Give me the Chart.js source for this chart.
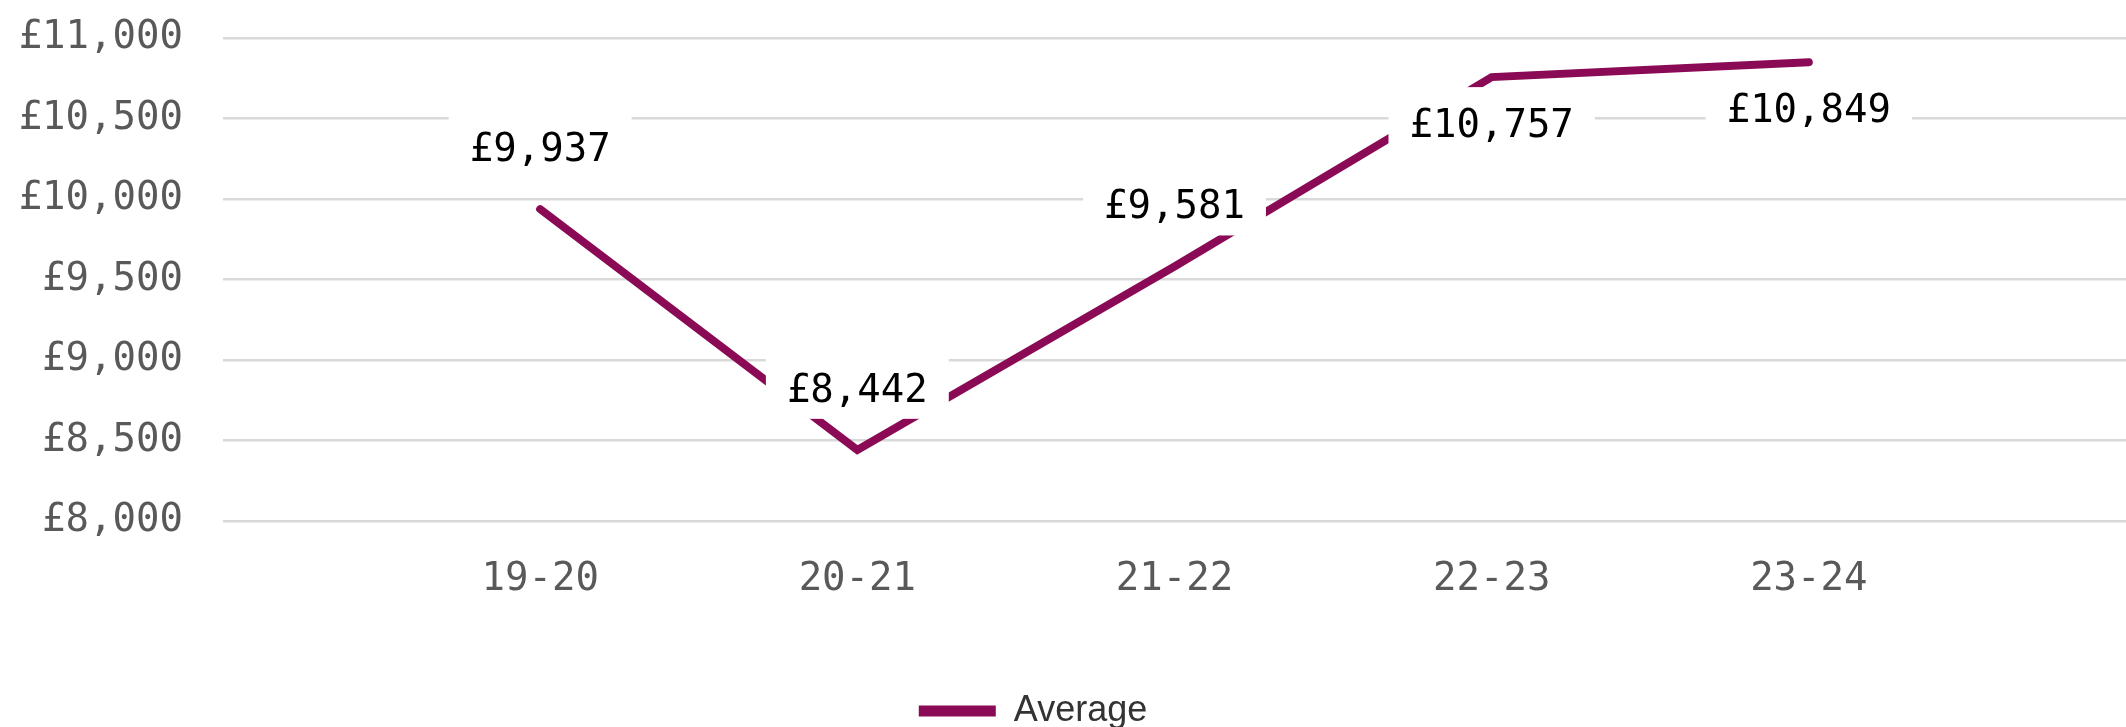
<!DOCTYPE html>
<html>
<head>
<meta charset="utf-8">
<script src="https://cdn.jsdelivr.net/npm/chart.js@4/dist/chart.umd.min.js"></script>
<style>
  html, body { margin: 0; padding: 0; background: #fff; }
  #wrap { width: 2126px; height: 727px; position: relative; }
</style>
</head>
<body>
<div id="wrap"><canvas id="avgChart"></canvas></div>
<script>
// chart data
const categories = ['19-20', '20-21', '21-22', '22-23', '23-24'];
const averageValues = [9937, 8442, 9581, 10757, 10849];
const yMin = 8000;
const yMax = 11000;
const yStep = 500;
// where each value label sits relative to its point
const labelSides = ['above', 'above', 'above', 'below', 'below'];

const lineColor = '#8B0A55';
const monoFont = '"DejaVu Sans Mono", monospace';

function pounds(v) {
    return '£' + Number(v).toLocaleString('en-GB');
}

// empty slot either side, the way the original axis leaves room
const xLabels = [''].concat(categories, ['']);
const seriesData = [null].concat(averageValues, [null]);

// Excel style data labels: white box that covers line + gridlines
const valueLabels = {
    id: 'valueLabels',
    afterDatasetsDraw(chart) {
        const ctx = chart.ctx;
        const meta = chart.getDatasetMeta(0);
        ctx.save();
        ctx.font = '39px ' + monoFont;
        ctx.textAlign = 'center';
        ctx.textBaseline = 'alphabetic';
        meta.data.forEach((pt, i) => {
            const v = seriesData[i];
            if (v == null) return;
            const text = pounds(v);
            const cy = pt.y + (labelSides[i - 1] === 'above' ? -62 : 46);
            const w = ctx.measureText(text).width + 42;
            ctx.fillStyle = '#ffffff';
            ctx.fillRect(pt.x - w / 2, cy - 36, w, 67);
            ctx.fillStyle = '#000000';
            ctx.fillText(text, pt.x, cy + 14);
        });
        ctx.restore();
    }
};

// nudge the legend to where the original has it
const legendNudge = {
    id: 'legendNudge',
    afterLayout(chart) {
        const lg = chart.legend;
        if (!lg) return;
        lg.left -= 30;
        lg.right -= 30;
        lg.top += 12;
        lg.bottom += 12;
    }
};

const ctx = document.getElementById('avgChart').getContext('2d');
new Chart(ctx, {
    type: 'line',
    data: {
        labels: xLabels,
        datasets: [{
            label: 'Average',
            data: seriesData,
            borderColor: lineColor,
            backgroundColor: lineColor,
            borderWidth: 8,
            borderCapStyle: 'round',
            borderJoinStyle: 'miter',
            pointRadius: 0,
            pointHoverRadius: 0,
            tension: 0,
            fill: false
        }]
    },
    options: {
        responsive: true,
        maintainAspectRatio: false,
        animation: false,
        layout: { padding: { top: 38, right: 0, bottom: 0, left: 0 } },
        scales: {
            x: {
                offset: false,
                grid: { display: false, drawTicks: false },
                border: { display: false },
                ticks: {
                    autoSkip: false,
                    maxRotation: 0,
                    padding: 35,
                    color: '#595959',
                    font: { family: monoFont, size: 39 }
                },
                afterFit(scale) {
                    scale.height = 150;
                    // tick padding should only push labels down, not squeeze the sides
                    scale.paddingLeft = 0;
                    scale.paddingRight = 0;
                }
            },
            y: {
                min: yMin,
                max: yMax,
                grid: { color: '#d9d9d9', lineWidth: 2.5, drawTicks: false },
                border: { display: false },
                ticks: {
                    stepSize: yStep,
                    padding: 40,
                    color: '#595959',
                    font: { family: monoFont, size: 39 },
                    callback: v => pounds(v)
                },
                afterFit(scale) {
                    scale.width = 223;
                    scale.paddingTop = 0;
                    scale.paddingBottom = 0;
                }
            }
        },
        plugins: {
            tooltip: { enabled: false },
            legend: {
                position: 'bottom',
                labels: {
                    boxWidth: 77,
                    boxHeight: 11,
                    color: '#333333',
                    font: { family: '"Liberation Sans", Arial, sans-serif', size: 36 },
                    generateLabels(chart) {
                        return Chart.defaults.plugins.legend.labels.generateLabels(chart)
                            .map(item => Object.assign(item, { lineWidth: 0, fillStyle: lineColor }));
                    }
                }
            }
        }
    },
    plugins: [valueLabels, legendNudge]
});
</script>
</body>
</html>
